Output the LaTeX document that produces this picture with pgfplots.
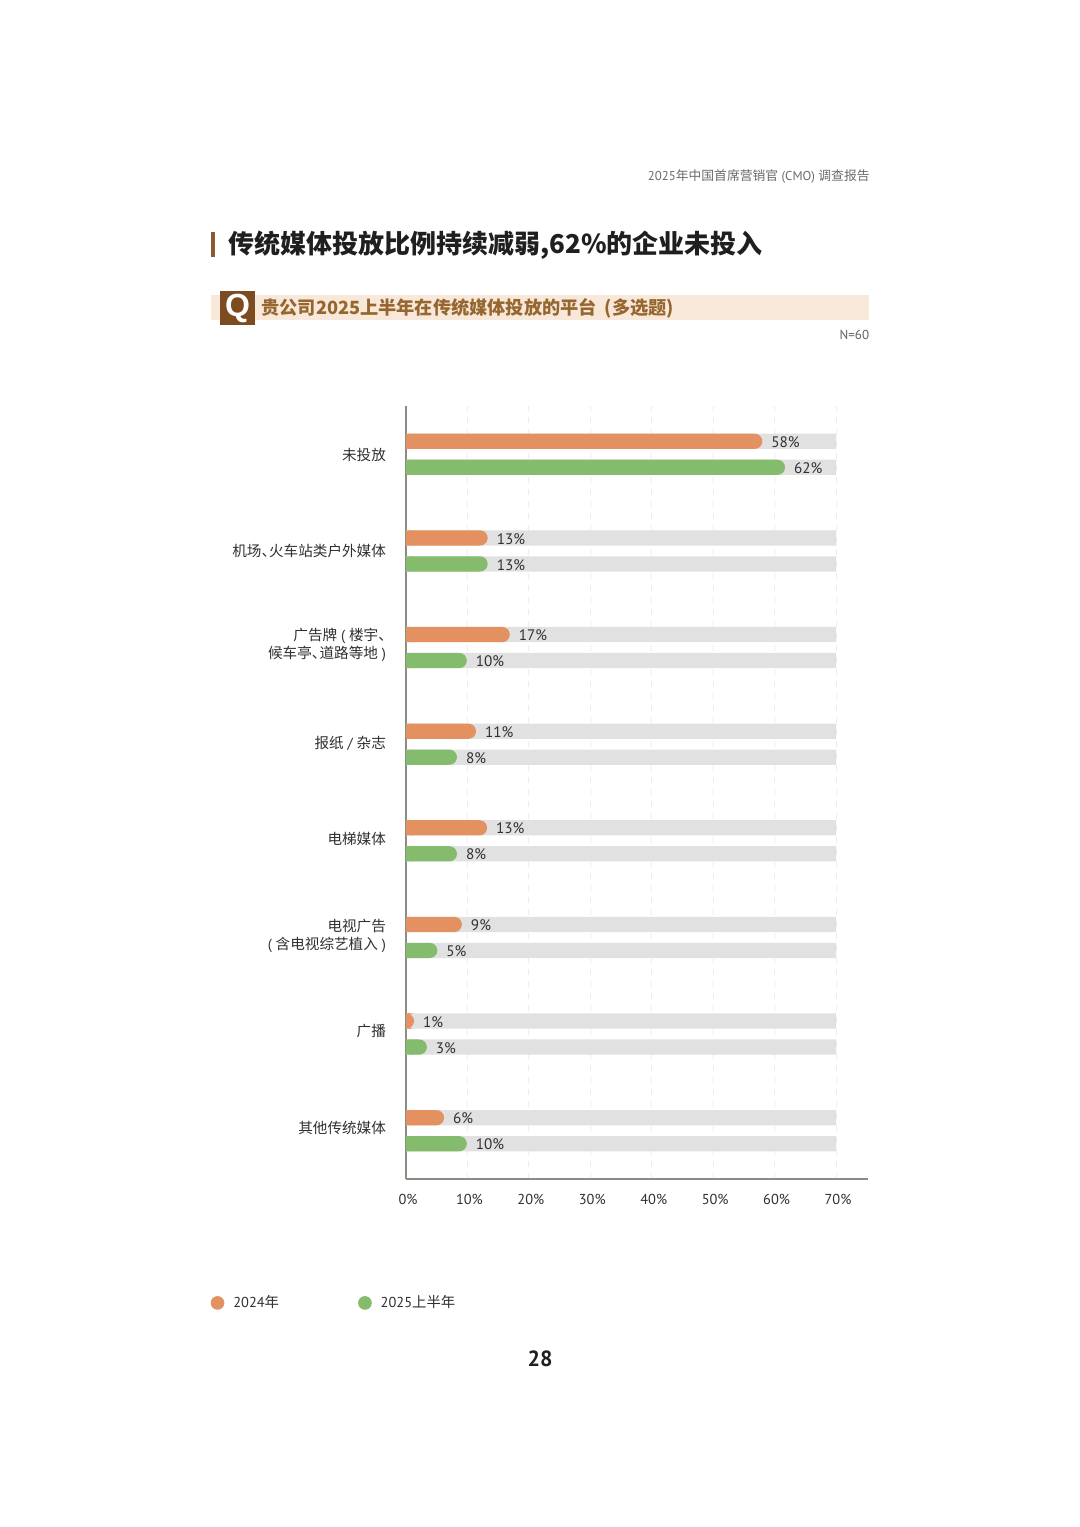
\documentclass[border=0pt]{standalone}
\usepackage{fontspec}
\usepackage{pgfplots}
\usepackage{pgfplotstable}
\pgfplotsset{compat=1.18}
\setmainfont{PT Sans}
\newfontfamily\cjk{Noto Sans CJK SC}
\newfontfamily\qfont{Liberation Sans}
\newcommand{\zh}[1]{{\cjk #1}}
\definecolor{orangebar}{HTML}{E39160}
\definecolor{greenbar}{HTML}{85BB6C}
\definecolor{trackgray}{HTML}{E1E1E1}
\definecolor{brownbox}{HTML}{7D4B20}
\definecolor{brownbar}{HTML}{8A5A33}
\definecolor{browntext}{HTML}{96662F}
\definecolor{bandcol}{HTML}{F8E8DA}
\definecolor{axiscol}{HTML}{8C8C84}
\definecolor{labelcol}{HTML}{303030}

% pos: row from the bottom, values in percent
\pgfplotstableread{
pos y2024 y2025 full
7 58.0 61.7 70
6 13.3 13.3 70
5 16.9  9.9 70
4 11.4  8.3 70
3 13.2  8.3 70
2  9.1  5.1 70
1  1.3  3.4 70
0  6.2  9.9 70
}\bars

\begin{document}
\begin{tikzpicture}[x=0.5pt,y=-0.5pt]
  \path[use as bounding box,fill=white] (0,0) rectangle (1080,1527);
  \coordinate (origin) at (406,1179);

  \node[anchor=east,inner sep=0pt,text=black!58,font=\fontsize{6.4}{8}\selectfont] at (870,176) {2025\zh{年中国首席营销官} (CMO) \zh{调查报告}};
  \fill[brownbar] (211,232) rectangle (215,257);
  \node[anchor=west,inner sep=0pt,text=black!88,font=\fontsize{13}{16}\selectfont\bfseries] at (228,245) {\zh{传统媒体投放比例持续减弱,62\%的企业未投入}};
  \fill[bandcol] (211,295) rectangle (869,320);
  \fill[brownbox] (220,291) rectangle (255,325);
  \node[text=white,font=\fontsize{16}{17}\selectfont\qfont\bfseries] at (237.5,308) {Q};
  \node[anchor=west,inner sep=0pt,text=browntext,font=\fontsize{9.1}{11}\selectfont\bfseries] at (261,308) {\zh{贵公司2025上半年在传统媒体投放的平台\kern4pt(多选题)}};
  \node[anchor=east,inner sep=0pt,text=black!62,font=\fontsize{6.5}{8}\selectfont] at (869.5,335) {N=60};
  \node[text=black!88,font=\fontsize{11}{13}\selectfont\bfseries] at (540,1359) {28};

  \begin{axis}[
    at={(origin)},anchor=south west,
    scale only axis,width=231pt,height=386.5pt,
    xmin=0,xmax=75.2,ymin=-0.5,ymax=7.5,
    axis lines=left,
    axis line style={-,color=axiscol,line width=0.6pt},
    xbar,bar width=7.6pt,
    xtick={0,10,...,70},
    % the labels sit a little above the middle of their rows, more so lower down
    ytick={0.03,1.03,2.016,3.02,4.01,5.026,6,6.99},
    yticklabels={\zh{其他传统媒体},\zh{广播},{\zh{电视广告}\\( \zh{含电视综艺植入} )},\zh{电梯媒体},\zh{报纸} / \zh{杂志},{\zh{广告牌} ( \zh{楼宇、}\kern-3.5pt\\\zh{候车亭、}\kern-3.5pt\zh{道路等地} )},\zh{机场、}\kern-3.5pt\zh{火车站类户外媒体},\zh{未投放}},
    major tick length=0pt,
    xmajorgrids,
    grid style={dashed,color=black!7,line width=0.4pt},
    xticklabel={\pgfmathprintnumber{\tick}\%},
    /pgf/number format/assume math mode=true,
    tick label style={text=labelcol},
    xticklabel style={font=\fontsize{7.2}{9}\selectfont,yshift=-4pt,xshift=1pt},
    yticklabel style={font=\fontsize{7.3}{8.7}\selectfont,align=right,xshift=-6.5pt},
    nodes near coords style={font=\fontsize{7.6}{9}\selectfont,text=labelcol,anchor=west,xshift=1pt,yshift=-0.4pt},
    legend style={draw=none,fill=none,inner sep=0pt,at={(-0.4235,-0.1603)},anchor=west,
      legend columns=2,font=\fontsize{7.2}{9}\selectfont,text=labelcol,
      /tikz/every odd column/.append style={column sep=2.5pt},
      /tikz/every even column/.append style={column sep=37.5pt}},
  ]
    % gray tracks
    \addplot[forget plot,fill=trackgray,draw=none,bar shift=6.5pt] table[x=full,y=pos]{\bars};
    \addplot[forget plot,fill=trackgray,draw=none,bar shift=-6.5pt] table[x=full,y=pos]{\bars};
    % square left end under the rounded bars
    \addplot[forget plot,fill=orangebar,draw=none,bar shift=6.5pt] table[x expr={min(\thisrow{y2024}/2,1.25)},y=pos]{\bars};
    \addplot[forget plot,fill=greenbar,draw=none,bar shift=-6.5pt] table[x expr={min(\thisrow{y2025}/2,1.25)},y=pos]{\bars};
    \addplot[forget plot,fill=orangebar,draw=none,bar shift=6.5pt,rounded corners=3.8pt,
      nodes near coords={\pgfmathprintnumber[fixed,precision=0]{\pgfplotspointmeta}\%},point meta=x] table[x=y2024,y=pos]{\bars};
    \addplot[forget plot,fill=greenbar,draw=none,bar shift=-6.5pt,rounded corners=3.8pt,
      nodes near coords={\pgfmathprintnumber[fixed,precision=0]{\pgfplotspointmeta}\%},point meta=x] table[x=y2025,y=pos]{\bars};
    \addlegendimage{legend image code/.code={\fill[orangebar] (0pt,0pt) circle (3.2pt);}}
    \addlegendentry{2024\zh{年}}
    \addlegendimage{legend image code/.code={\fill[greenbar] (0pt,0pt) circle (3.2pt);}}
    \addlegendentry{2025\zh{上半年}}
  \end{axis}
\end{tikzpicture}
\end{document}
